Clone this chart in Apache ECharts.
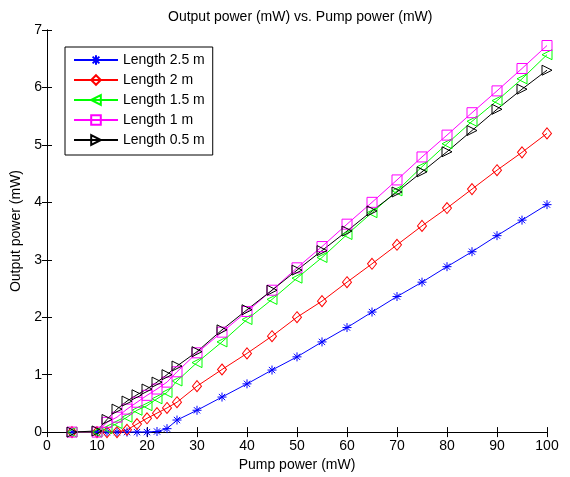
<!DOCTYPE html>
<html>
<head>
<meta charset="utf-8">
<script src="https://cdn.jsdelivr.net/npm/echarts@6/dist/echarts.min.js"></script>
<style>
  html, body { margin: 0; padding: 0; background: #fff; }
  #chart { width: 570px; height: 477px; }
</style>
</head>
<body>
<div id="chart"></div>
<script>
const pumpPower = [5, 10, 12, 14, 16, 18, 20, 22, 24, 26, 30, 35, 40, 45, 50, 55, 60, 65, 70, 75, 80, 85, 90, 95, 100];

const len25 = [0, 0, 0, 0, 0, 0, 0, 0.01, 0.06, 0.21, 0.38, 0.61, 0.84, 1.08, 1.31, 1.57, 1.82, 2.09, 2.36, 2.61, 2.88, 3.14, 3.42, 3.69, 3.96];
const len20 = [0, 0, 0, 0, 0.04, 0.14, 0.24, 0.33, 0.42, 0.52, 0.80, 1.09, 1.37, 1.67, 2.0, 2.28, 2.61, 2.93, 3.26, 3.59, 3.90, 4.23, 4.56, 4.87, 5.20];
const len15 = [0, 0, 0.06, 0.15, 0.26, 0.38, 0.46, 0.58, 0.69, 0.89, 1.21, 1.57, 1.96, 2.31, 2.68, 3.04, 3.44, 3.82, 4.20, 4.62, 5.02, 5.41, 5.77, 6.15, 6.57];
const len10 = [0, 0, 0.17, 0.26, 0.40, 0.52, 0.64, 0.75, 0.87, 1.05, 1.38, 1.74, 2.10, 2.47, 2.86, 3.23, 3.62, 4.00, 4.39, 4.79, 5.17, 5.56, 5.94, 6.33, 6.73];
const len05 = [0, 0.02, 0.22, 0.40, 0.54, 0.65, 0.75, 0.87, 1.00, 1.15, 1.40, 1.78, 2.13, 2.47, 2.82, 3.16, 3.50, 3.85, 4.18, 4.53, 4.88, 5.25, 5.62, 5.97, 6.30];

const seriesNames = ["Length 2.5 m", "Length 2 m", "Length 1.5 m", "Length 1 m", "Length 0.5 m"];
const seriesColors = ["#0000ff", "#ff0000", "#00ff00", "#ff00ff", "#000000"];

const font = "'Liberation Sans', Arial, sans-serif";
const starPath = "path://M0,-10L0,10M-10,0L10,0M-7,-7L7,7M-7,7L7,-7";

const markers = [
  { symbol: starPath, size: 9, rotate: 0 },
  { symbol: "diamond", size: [9, 11], rotate: 0 },
  { symbol: "triangle", size: 10, rotate: 90 },
  { symbol: "rect", size: 10, rotate: 0 },
  { symbol: "triangle", size: 10, rotate: -90 },
];

const makeSeries = (i, values) => ({
  name: seriesNames[i],
  type: "line",
  xAxisIndex: 0,
  yAxisIndex: 0,
  data: pumpPower.map((x, j) => [x, values[j]]),
  symbol: markers[i].symbol,
  symbolSize: markers[i].size,
  symbolRotate: markers[i].rotate,
  showAllSymbol: true,
  animation: false,
  lineStyle: { color: seriesColors[i], width: 1 },
  itemStyle: {
    color: "rgba(255,255,255,0)",
    borderColor: seriesColors[i],
    borderWidth: 1,
  },
  emphasis: { disabled: true },
});

const axisCommon = {
  axisLine: { show: true, lineStyle: { color: "#000", width: 1 } },
  axisTick: { show: true, inside: true, length: 5, lineStyle: { color: "#000" } },
  splitLine: { show: false },
};

const chart = echarts.init(document.getElementById("chart"));
chart.setOption({
  backgroundColor: "#fff",
  animation: false,
  title: {
    text: "Output power (mW) vs. Pump power (mW)",
    left: 163,
    top: 5,
    textStyle: { fontFamily: font, fontSize: 14, fontWeight: "normal", color: "#000" },
  },
  legend: {
    orient: "vertical",
    left: 65,
    top: 47,
    padding: [6, 8, 8, 8],
    itemWidth: 44,
    itemHeight: 12,
    itemGap: 6,
    backgroundColor: "#fff",
    borderColor: "#000",
    borderWidth: 1,
    borderRadius: 0,
    textStyle: { fontFamily: font, fontSize: 14, color: "#000" },
    data: seriesNames,
  },
  grid: { left: 47, right: 23, top: 30, bottom: 40, containLabel: false },
  xAxis: [
    Object.assign({}, axisCommon, {
      type: "value",
      min: 0,
      max: 100,
      interval: 10,
      position: "bottom",
      name: "Pump power (mW)",
      nameLocation: "middle",
      nameGap: 22,
      nameTextStyle: { fontFamily: font, fontSize: 14, color: "#000", verticalAlign: "top" },
      axisLabel: { fontFamily: font, fontSize: 14, color: "#000", margin: 7 },
    }),
    Object.assign({}, axisCommon, {
      type: "value",
      min: 0,
      max: 100,
      interval: 10,
      position: "top",
      axisLabel: { show: false },
    }),
  ],
  yAxis: [
    Object.assign({}, axisCommon, {
      type: "value",
      min: 0,
      max: 7,
      interval: 1,
      position: "left",
      name: "Output power (mW)",
      nameLocation: "middle",
      nameGap: 23,
      nameTextStyle: { fontFamily: font, fontSize: 14, color: "#000" },
      axisLabel: { fontFamily: font, fontSize: 14, color: "#000", margin: 5 },
    }),
    Object.assign({}, axisCommon, {
      type: "value",
      min: 0,
      max: 7,
      interval: 1,
      position: "right",
      axisLabel: { show: false },
    }),
  ],
  series: [
    makeSeries(0, len25),
    makeSeries(1, len20),
    makeSeries(2, len15),
    makeSeries(3, len10),
    makeSeries(4, len05),
  ],
});
</script>
</body>
</html>
